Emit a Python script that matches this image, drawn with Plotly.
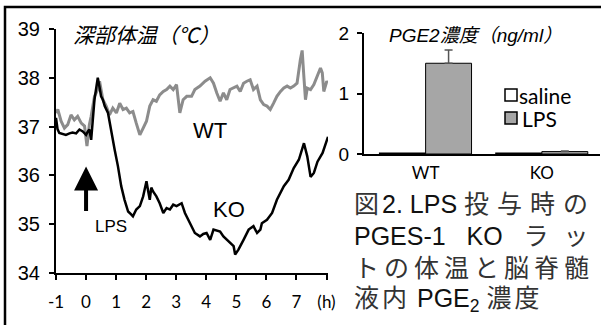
import plotly.graph_objects as go

W, H = 601, 325

# ---------------- data ----------------
ko_t = [-1.00, -0.95, -0.89, -0.78, -0.67, -0.55, -0.45, -0.33, -0.22, -0.11, -0.05, 0.00, 0.06, 0.11,
        0.17, 0.22, 0.28, 0.34, 0.39, 0.45, 0.50, 0.56, 0.62, 0.73, 0.84, 0.95, 1.06, 1.17, 1.28, 1.40,
        1.50, 1.56, 1.67, 1.79, 1.90, 2.01, 2.06, 2.12, 2.17, 2.23, 2.34, 2.45, 2.57, 2.68, 2.79, 2.90,
        3.01, 3.18, 3.29, 3.46, 3.62, 3.79, 3.90, 4.01, 4.13, 4.24, 4.35, 4.46, 4.57, 4.68, 4.80, 4.91,
        4.96, 5.07, 5.24, 5.41, 5.57, 5.69, 5.80, 5.85, 6.02, 6.19, 6.35, 6.58, 6.74, 6.91, 7.08, 7.25,
        7.36, 7.47, 7.58, 7.70, 7.87, 7.97, 8.05]
ko_temp = [37.18, 36.95, 36.87, 36.85, 36.83, 36.86, 36.88, 36.86, 36.94, 36.90, 36.85, 36.83, 36.90, 36.94,
           36.73, 37.20, 37.55, 37.80, 38.00, 37.80, 37.62, 37.55, 37.42, 37.28, 36.87, 36.53, 36.19, 35.78,
           35.50, 35.26, 35.20, 35.16, 35.30, 35.37, 35.57, 35.88, 35.70, 35.50, 35.75, 35.67, 35.57, 35.43,
           35.23, 35.33, 35.30, 35.40, 35.37, 35.43, 35.23, 35.02, 34.82, 34.75, 34.80, 34.82, 34.68, 34.89,
           34.87, 34.85, 34.75, 34.68, 34.62, 34.55, 34.38, 34.48, 34.68, 34.89, 34.96, 34.82, 34.89, 35.02,
           35.09, 35.23, 35.50, 35.78, 35.91, 36.15, 36.32, 36.66, 36.39, 35.97, 36.05, 36.28, 36.46, 36.62,
           36.79]

wt_t = [-1.00, -0.94, -0.83, -0.72, -0.61, -0.50, -0.39, -0.28, -0.16, -0.05, 0.03, 0.11, 0.17, 0.28,
        0.39, 0.45, 0.56, 0.67, 0.78, 0.89, 1.01, 1.12, 1.23, 1.34, 1.45, 1.56, 1.67, 1.79, 1.90, 2.01,
        2.12, 2.23, 2.34, 2.45, 2.57, 2.68, 2.79, 2.90, 3.01, 3.12, 3.23, 3.35, 3.51, 3.62, 3.79, 3.96,
        4.13, 4.24, 4.35, 4.46, 4.57, 4.68, 4.79, 4.91, 5.02, 5.13, 5.24, 5.35, 5.46, 5.57, 5.69, 5.80,
        5.91, 6.02, 6.13, 6.24, 6.35, 6.47, 6.58, 6.69, 6.80, 6.91, 7.02, 7.13, 7.19, 7.25, 7.30, 7.36,
        7.47, 7.58, 7.69, 7.80, 7.86, 7.91, 8.01, 8.04]
wt_temp = [37.28, 37.35, 37.11, 36.97, 37.04, 37.24, 37.14, 37.21, 37.07, 37.01, 36.60, 37.04, 37.21, 37.62,
           37.76, 37.93, 37.55, 37.42, 37.24, 37.38, 37.28, 37.48, 37.35, 37.38, 37.28, 37.31, 37.07, 36.83,
           36.97, 37.11, 37.42, 37.55, 37.52, 37.65, 37.72, 37.76, 37.83, 37.76, 37.86, 37.28, 37.55, 37.62,
           37.62, 37.76, 37.83, 37.93, 38.00, 37.89, 37.69, 37.52, 37.69, 37.55, 37.76, 37.79, 37.83, 37.72,
           37.89, 37.93, 37.96, 37.76, 37.83, 37.55, 37.45, 37.42, 37.35, 37.48, 37.62, 37.72, 37.79, 37.83,
           37.79, 37.83, 37.89, 38.37, 38.56, 38.00, 37.55, 37.79, 37.76, 37.86, 38.05, 38.20, 38.10, 37.72,
           37.93, 37.90]

x_tickvals = [-1, 0, 1, 2, 3, 4, 5, 6, 7, 8]
x_ticktext = ["-1", "0", "1", "2", "3", "4", "5", "6", "7", "(h)"]
y_tickvals = [34, 35, 36, 37, 38, 39]

bar_groups = ["WT", "KO"]
saline_vals = [0.012, 0.012]
lps_vals = [1.50, 0.04]
lps_err = [0.22, 0.01]
bar_ticks = [0, 1, 2]

# ---------------- helpers ----------------
def px(x):
    return x / W

def py(y):
    return 1 - y / H

fig = go.Figure()

fig.add_trace(go.Scatter(x=wt_t, y=wt_temp, mode="lines",
                         line=dict(color="#8c8c8c", width=3), xaxis="x", yaxis="y",
                         showlegend=False))
fig.add_trace(go.Scatter(x=ko_t, y=ko_temp, mode="lines",
                         line=dict(color="#000000", width=2.5), xaxis="x", yaxis="y",
                         showlegend=False))

fig.add_trace(go.Bar(x=bar_groups, y=saline_vals, name="saline", offsetgroup="s",
                     marker=dict(color="white", line=dict(color="black", width=1.5)),
                     xaxis="x2", yaxis="y2", showlegend=False))
fig.add_trace(go.Bar(x=bar_groups, y=lps_vals, name="LPS", offsetgroup="l",
                     marker=dict(color="#a6a6a6", line=dict(color="black", width=1)),
                     error_y=dict(type="data", array=lps_err, arrayminus=[0, 0], visible=True,
                                  color="#555555", thickness=1.5, width=4),
                     xaxis="x2", yaxis="y2", showlegend=False))

# page frame (top and left edges) drawn on an overlay axis in pixel units
fig.add_trace(go.Scatter(x=[5, 5, 601], y=[325, 7, 7], mode="lines",
                         line=dict(color="black", width=2.5), xaxis="x3", yaxis="y3",
                         showlegend=False, hoverinfo="skip", cliponaxis=False))

fig.update_layout(
    width=W, height=H,
    margin=dict(l=0, r=0, t=0, b=0),
    paper_bgcolor="white", plot_bgcolor="rgba(0,0,0,0)",
    barmode="group", bargap=0.21, bargroupgap=0,
    xaxis=dict(domain=[px(56), px(328)], range=[-1, 8.05], tickvals=x_tickvals, ticktext=x_ticktext,
               showline=True, linecolor="black", linewidth=2, ticks="outside", ticklen=5,
               tickwidth=2, tickcolor="black", showgrid=False, zeroline=False,
               tickfont=dict(family="Lato, Liberation Sans", size=17, color="black"),
               ticklabelstandoff=8, automargin=False, anchor="y"),
    yaxis=dict(domain=[py(273), py(29)], range=[34, 39], tickvals=y_tickvals,
               showline=True, linecolor="black", linewidth=2, ticks="outside", ticklen=5,
               tickwidth=2, tickcolor="black", showgrid=False, zeroline=False,
               tickfont=dict(family="Liberation Sans, Arial", size=20, color="black"),
               ticklabelstandoff=5, automargin=False, anchor="x"),
    xaxis2=dict(domain=[px(364), px(600)], range=[-0.53, 1.50], type="category",
                showline=True, linecolor="black", linewidth=2, ticks="", showgrid=False,
                zeroline=False, tickfont=dict(family="Lato, Liberation Sans", size=17, color="black"),
                ticklabelstandoff=3, automargin=False, anchor="y2"),
    yaxis2=dict(domain=[py(154), py(33)], range=[0, 2], tickvals=bar_ticks,
                showline=True, linecolor="black", linewidth=2, ticks="outside", ticklen=5,
                tickwidth=2, tickcolor="black", showgrid=False, zeroline=False,
                tickfont=dict(family="Liberation Sans, Arial", size=19, color="black"),
                ticklabelstandoff=4, automargin=False, anchor="x2"),
    xaxis3=dict(domain=[0, 1], range=[0, W], visible=False, fixedrange=True, anchor="y3"),
    yaxis3=dict(domain=[0, 1], range=[H, 0], visible=False, fixedrange=True, anchor="x3"),
)

# legend (manual)
for (top, fill) in [(89, "white"), (112, "#a6a6a6")]:
    fig.add_shape(type="rect", xref="paper", yref="paper", x0=px(505), x1=px(517),
                  y0=py(top + 12), y1=py(top), fillcolor=fill, line=dict(color="black", width=1.5))
fig.add_annotation(x=px(517), y=py(95), xref="paper", yref="paper", text="saline", showarrow=False,
                   xanchor="left", yanchor="middle",
                   font=dict(family="Lato, Liberation Sans", size=21, color="black"))
fig.add_annotation(x=px(520), y=py(118), xref="paper", yref="paper", text="LPS", showarrow=False,
                   xanchor="left", yanchor="middle",
                   font=dict(family="Lato, Liberation Sans", size=21, color="black"))

cjk = "Liberation Sans, Noto Sans CJK JP"
# titles
fig.add_annotation(x=px(71), y=py(35), xref="paper", yref="paper", text="<i>深部体温（℃）</i>",
                   showarrow=False, xanchor="left", yanchor="middle",
                   font=dict(family=cjk, size=21, color="black"))
fig.add_annotation(x=px(387), y=py(35), xref="paper", yref="paper", text="<i>PGE2濃度（ng/ml）</i>",
                   showarrow=False, xanchor="left", yanchor="middle",
                   font=dict(family=cjk, size=19, color="black"))

# line labels
fig.add_annotation(x=px(191), y=py(130), xref="paper", yref="paper", text="WT", showarrow=False,
                   font=dict(family="Liberation Sans, Arial", size=22, color="black"))
fig.add_annotation(x=px(229), y=py(209), xref="paper", yref="paper", text="KO", showarrow=False,
                   font=dict(family="Liberation Sans, Arial", size=22, color="black"))
fig.add_annotation(x=px(93), y=py(238), xref="paper", yref="paper", text="LPS", showarrow=False,
                   font=dict(family="Liberation Sans, Arial", size=17, color="black"))
# arrow
fig.add_annotation(x=0, y=36.18, xref="x", yref="y", ax=0, ay=46, text="", showarrow=True,
                   arrowhead=2, arrowsize=1.2, arrowwidth=4, arrowcolor="black")

# caption
def jp(s, sp):
    return "<span style='letter-spacing:%dpx;color:#333333'>%s</span>" % (sp, s)

caption = [jp("図", 3) + "2. LPS " + jp("投与時の", 8),
           "PGES-1\u00a0\u00a0 KO\u00a0\u00a0 " + jp("ラ\u00a0ッ", 4),
           jp("トの体温と脳脊髄", 5),
           jp("液内", 3) + " PGE<sub>2</sub> " + jp("濃度", 3)]
for i, line in enumerate(caption):
    fig.add_annotation(x=px(352), y=py(204 + i * 32), xref="paper", yref="paper", text=line,
                       showarrow=False, xanchor="left", yanchor="middle",
                       font=dict(family=cjk, size=25, color="#111111"))

fig.write_html("out.html", config={"displayModeBar": False},
               post_script="document.body.style.margin='0px';")
